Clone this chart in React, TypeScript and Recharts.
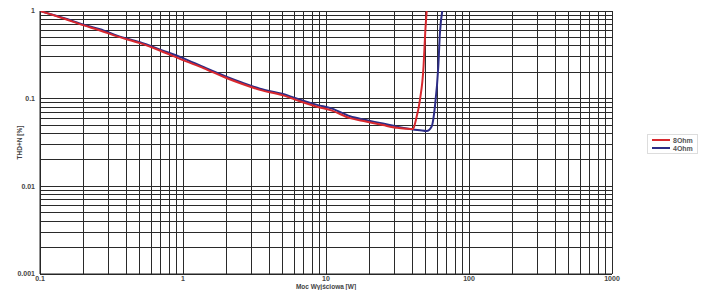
import React from "react";
import { LineChart, Line, XAxis, YAxis, CartesianGrid } from "recharts";

// 8 Ohm (red) – power [W] / THD+N [%]
const red8X = [0.1, 0.15, 0.2, 0.263, 0.35, 0.5, 0.7, 1, 1.4, 2.03, 2.6, 3.45, 5, 6.5, 8.65, 11, 14.7, 19, 25, 31.4, 36, 40.6, 42.6, 45.4, 48.1, 49.4, 50.6];
const red8Y = [1.0, 0.81, 0.69, 0.6, 0.51, 0.43, 0.35, 0.275, 0.222, 0.171, 0.147, 0.126, 0.109, 0.094, 0.081, 0.073, 0.06, 0.055, 0.05, 0.0465, 0.0455, 0.045, 0.058, 0.097, 0.233, 0.56, 1.0];

// 4 Ohm (blue)
const blue4X = [0.1, 0.15, 0.2, 0.263, 0.35, 0.5, 0.7, 1, 1.4, 2.03, 2.6, 3.45, 5, 6.5, 8.65, 11, 14.7, 19, 25, 31.4, 38.7, 45.4, 50.6, 54.9, 57.8, 61, 62.6, 65];
const blue4Y = [1.0, 0.82, 0.7, 0.62, 0.52, 0.44, 0.36, 0.29, 0.228, 0.177, 0.152, 0.13, 0.113, 0.098, 0.085, 0.077, 0.063, 0.057, 0.052, 0.048, 0.0452, 0.0436, 0.0427, 0.0485, 0.0817, 0.233, 0.56, 1.0];

const xTicks = [0.1, 1, 10, 100, 1000];
const yTicks = [0.001, 0.01, 0.1, 1];
const steps = [1, 2, 3, 4, 5, 6, 7, 8, 9];
const xGrid = [0.1, 1, 10, 100].flatMap((d) => steps.map((m) => +(d * m).toPrecision(3))).concat([1000]);
const yGrid = [0.001, 0.01, 0.1].flatMap((d) => steps.map((m) => +(d * m).toPrecision(3))).concat([1]);

const red = red8X.map((x, i) => ({ x, y: red8Y[i] }));
const blue = blue4X.map((x, i) => ({ x, y: blue4Y[i] }));

const font = "'Liberation Sans', Arial, sans-serif";
const tickStyle = { fill: "#444", fontSize: 7, fontWeight: 700, fontFamily: font };

function LegendBox() {
  const row = (color: string, text: string) => (
    <div style={{ display: "flex", alignItems: "center", gap: 3, height: 8 }}>
      <span style={{ width: 18, height: 0, borderTop: `2px solid ${color}`, display: "inline-block" }} />
      <span>{text}</span>
    </div>
  );
  return (
    <div
      style={{
        position: "absolute",
        left: 647,
        top: 134,
        border: "1px solid #ddd",
        padding: "1px 4px",
        fontSize: 7,
        fontWeight: 700,
        color: "#555",
        fontFamily: font,
        background: "#fff",
      }}
    >
      {row("#d8282e", "8Ohm")}
      {row("#2c2c86", "4Ohm")}
    </div>
  );
}

export default function App() {
  return (
    <div style={{ position: "absolute", left: 0, top: 0, width: 705, height: 290, background: "#fff" }}>
      <LineChart width={705} height={290} margin={{ top: 11, right: 93, bottom: 0, left: 0 }}>
        <CartesianGrid
          stroke="#2a2a2a"
          strokeWidth={1}
          shapeRendering="crispEdges"
          verticalValues={xGrid}
          horizontalValues={yGrid}
        />
        <XAxis
          type="number"
          dataKey="x"
          scale="log"
          domain={[0.1, 1000]}
          allowDataOverflow
          ticks={xTicks}
          interval={0}
          tick={tickStyle}
          tickLine={false}
          tickSize={0}
          tickMargin={2}
          axisLine={{ stroke: "#222" }}
          height={16}
          label={{ value: "Moc Wyjściowa [W]", position: "insideBottom", offset: 1, style: { ...tickStyle, fontSize: 6.5 } }}
        />
        <YAxis
          type="number"
          dataKey="y"
          scale="log"
          domain={[0.001, 1]}
          allowDataOverflow
          ticks={yTicks}
          interval={0}
          tick={tickStyle}
          tickLine={false}
          tickSize={0}
          tickMargin={5}
          axisLine={{ stroke: "#222" }}
          width={40}
          label={{ value: "THD+N [%]", angle: -90, position: "insideLeft", offset: 20, style: { ...tickStyle, fontSize: 6.5, textAnchor: "middle" } }}
        />
        <Line data={blue} dataKey="y" type="monotone" stroke="#2c2c86" strokeWidth={2} dot={false} isAnimationActive={false} />
        <Line data={red} dataKey="y" type="monotone" stroke="#d8282e" strokeWidth={2} dot={false} isAnimationActive={false} />
      </LineChart>
      <LegendBox />
    </div>
  );
}
